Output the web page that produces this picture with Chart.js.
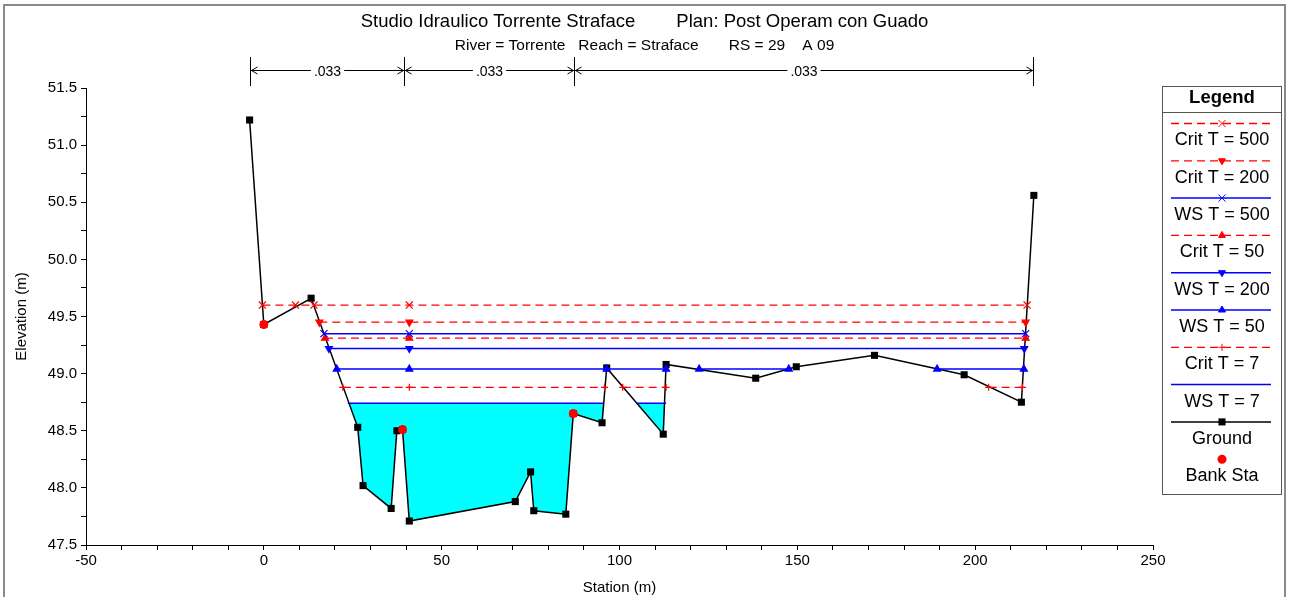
<!DOCTYPE html>
<html>
<head>
<meta charset="utf-8">
<title>Studio Idraulico Torrente Straface - RS 29</title>
<script src="https://cdn.jsdelivr.net/npm/chart.js@4.4.1/dist/chart.umd.min.js"></script>
<style>
  html, body { margin: 0; padding: 0; background: #fff; }
  #wrap { position: relative; width: 1289px; height: 597px; overflow: hidden; }
  canvas { position: absolute; left: 0; top: 0; }
  #frame { position: absolute; left: 3px; top: 4px; width: 1283px; height: 620px; border: 2px solid #8a8a8a; box-sizing: border-box; pointer-events: none; }
</style>
</head>
<body>
<div id="wrap">
  <canvas id="xs" width="1289" height="597"></canvas>
  <div id="frame"></div>
</div>
<script>
const FONT = "'Liberation Sans', Arial, Helvetica, sans-serif";

// ground profile (station m, elevation m)
let groundSta = [-4, 0, 13.3, 26.4, 27.9, 35.8, 37.4, 39.0, 40.9, 70.7, 75.0, 75.9, 84.9, 87.0, 95.1, 96.4, 112.3, 113.1, 138.3, 149.7, 171.7, 196.9, 213.0, 216.5];
let groundElev = [51.22, 49.43, 49.66, 48.53, 48.02, 47.82, 48.50, 48.51, 47.71, 47.88, 48.14, 47.80, 47.77, 48.65, 48.57, 49.05, 48.47, 49.08, 48.96, 49.06, 49.16, 48.99, 48.75, 50.56];

// bank stations
let bankSta = [0, 39.0, 87.0];
let bankElev = [49.43, 48.51, 48.65];

// water surfaces: elevation + marker stations, one list per wetted segment
let crit500Elev = 49.60;
let crit500Sta = [[-0.4, 8.9, 14.1, 40.9, 214.6]];
let crit200Elev = 49.45;
let crit200Sta = [[15.6, 40.9, 214.2]];
let ws500Elev = 49.35;
let ws500Sta = [[16.9, 40.9, 214.2]];
let crit50Elev = 49.31;
let crit50Sta = [[17.2, 40.9, 214.2]];
let ws200Elev = 49.22;
let ws200Sta = [[18.3, 40.9, 213.8]];
let ws50Elev = 49.04;
let ws50Sta = [[20.5, 40.9, 96.4, 113.1], [122.4, 147.6], [189.3, 213.7]];
let crit7Elev = 48.88;
let crit7Sta = [[22.2, 40.9, 95.8], [100.9, 113.1], [203.8, 213.3]];
let ws7Elev = 48.74;
let ws7Sta = [[23.6, 95.5], [104.8, 113.1]];

// manning n regions
let nSta = [-4, 39.4, 87.2, 216.4];
let nVal = [".033", ".033", ".033"];

let titleText = "Studio Idraulico Torrente Straface        Plan: Post Operam con Guado";
let subTitleText = "River = Torrente   Reach = Straface       RS = 29    A 09";

function profileData(elev, segs) {
  let pts = [];
  segs.forEach((seg, i) => {
    if (i > 0) {
      let prev = segs[i - 1];
      pts.push({ x: (prev[prev.length - 1] + seg[0]) / 2, y: null });
    }
    seg.forEach((s) => pts.push({ x: s, y: elev }));
  });
  return pts;
}

// ground clipped at the water level, used for the blue fill
function waterData(sta, elev, ws) {
  let pts = [];
  for (let i = 0; i < sta.length; i++) {
    if (i > 0) {
      let a = elev[i - 1] - ws;
      let b = elev[i] - ws;
      if (a * b < 0) {
        let t = a / (a - b);
        pts.push({ x: sta[i - 1] + t * (sta[i] - sta[i - 1]), y: ws });
      }
    }
    pts.push({ x: sta[i], y: Math.min(elev[i], ws) });
  }
  return pts;
}

function critSet(label, elev, segs, style, radius, rot) {
  return {
    label: label,
    data: profileData(elev, segs),
    borderColor: "#ff0000",
    backgroundColor: "#ff0000",
    borderWidth: 1.3,
    borderDash: [8, 5],
    pointStyle: style,
    pointRadius: radius,
    pointRotation: rot || 0,
    pointBorderWidth: 1.2,
    fill: false,
  };
}

function wsSet(label, elev, segs, style, radius, rot) {
  return {
    label: label,
    data: profileData(elev, segs),
    borderColor: "#0000ff",
    backgroundColor: "#0000ff",
    borderWidth: 1.5,
    pointStyle: style,
    pointRadius: radius,
    pointRotation: rot || 0,
    pointBorderWidth: 1.2,
    fill: false,
  };
}

let datasets = [
  critSet("Crit T = 500", crit500Elev, crit500Sta, "crossRot", 5),
  critSet("Crit T = 200", crit200Elev, crit200Sta, "triangle", 4, 180),
  wsSet("WS T = 500", ws500Elev, ws500Sta, "crossRot", 5),
  critSet("Crit T = 50", crit50Elev, crit50Sta, "triangle", 4),
  wsSet("WS T = 200", ws200Elev, ws200Sta, "triangle", 4, 180),
  wsSet("WS T = 50", ws50Elev, ws50Sta, "triangle", 4),
  critSet("Crit T = 7", crit7Elev, crit7Sta, "cross", 3.5),
  wsSet("WS T = 7", ws7Elev, ws7Sta, "circle", 0),
  {
    label: "Ground",
    data: groundSta.map((s, i) => ({ x: s, y: groundElev[i] })),
    borderColor: "#000000",
    backgroundColor: "#000000",
    borderWidth: 1.5,
    pointStyle: "rect",
    pointRadius: 5,
    pointBorderWidth: 0,
    fill: false,
  },
  {
    label: "Bank Sta",
    data: bankSta.map((s, i) => ({ x: s, y: bankElev[i] })),
    showLine: false,
    borderColor: "#ff0000",
    backgroundColor: "#ff0000",
    pointStyle: "circle",
    pointRadius: 4.5,
    pointBorderWidth: 0,
    order: -1,
  },
  {
    label: "water",
    legendSkip: true,
    data: waterData(groundSta, groundElev, ws7Elev),
    borderColor: "rgba(0,0,0,0)",
    backgroundColor: "#00ffff",
    borderWidth: 1,
    pointRadius: 0,
    fill: { target: { value: ws7Elev } },
    order: 10,
  },
];

// n values bar above the plot
const manningBar = {
  id: "manningBar",
  afterDraw(chart) {
    const ctx = chart.ctx;
    const xs = chart.scales.x;
    const y = 70;
    ctx.save();
    ctx.strokeStyle = "#000";
    ctx.fillStyle = "#000";
    ctx.lineWidth = 1;
    ctx.font = "14px " + FONT;
    ctx.textAlign = "center";
    ctx.textBaseline = "middle";
    let px = nSta.map((s) => Math.round(xs.getPixelForValue(s)) + 0.5);
    px.forEach((p) => {
      ctx.beginPath();
      ctx.moveTo(p, 57);
      ctx.lineTo(p, 86);
      ctx.stroke();
    });
    for (let i = 0; i < nVal.length; i++) {
      let a = px[i], b = px[i + 1];
      let mid = (a + b) / 2;
      let w = ctx.measureText(nVal[i]).width;
      ctx.beginPath();
      ctx.moveTo(a, y + 0.5);
      ctx.lineTo(mid - w / 2 - 3, y + 0.5);
      ctx.moveTo(mid + w / 2 + 3, y + 0.5);
      ctx.lineTo(b, y + 0.5);
      // arrow heads
      ctx.moveTo(a + 7, y - 3);
      ctx.lineTo(a + 1, y + 0.5);
      ctx.lineTo(a + 7, y + 4);
      ctx.moveTo(b - 7, y - 3);
      ctx.lineTo(b - 1, y + 0.5);
      ctx.lineTo(b - 7, y + 4);
      ctx.stroke();
      ctx.fillText(nVal[i], mid, y + 2);
    }
    ctx.restore();
  },
};

// boxed legend on the right
const boxLegend = {
  id: "boxLegend",
  afterDraw(chart) {
    const ctx = chart.ctx;
    const L = 1162, T = 86, R = 1281, B = 494;
    const cx = (L + R) / 2 + 0.5;
    ctx.save();
    ctx.strokeStyle = "#555";
    ctx.lineWidth = 1;
    ctx.strokeRect(L + 0.5, T + 0.5, R - L, B - T);
    ctx.beginPath();
    ctx.moveTo(L, 112.5);
    ctx.lineTo(R, 112.5);
    ctx.stroke();
    ctx.fillStyle = "#000";
    ctx.textAlign = "center";
    ctx.textBaseline = "middle";
    ctx.font = "bold 18.5px " + FONT;
    ctx.fillText("Legend", cx, 98);
    ctx.font = "18px " + FONT;
    let items = chart.data.datasets.filter((ds) => !ds.legendSkip);
    items.forEach((ds, i) => {
      let ly = 123.5 + i * 37.3;
      if (ds.showLine !== false) {
        ctx.save();
        ctx.strokeStyle = ds.borderColor;
        ctx.lineWidth = ds.borderWidth;
        ctx.setLineDash(ds.borderDash || []);
        ctx.beginPath();
        ctx.moveTo(L + 9, ly);
        ctx.lineTo(R - 10, ly);
        ctx.stroke();
        ctx.restore();
      }
      if (ds.pointRadius > 0) {
        ctx.save();
        ctx.fillStyle = ds.backgroundColor;
        ctx.strokeStyle = ds.borderColor;
        ctx.setLineDash([]);
        Chart.helpers.drawPoint(ctx, {
          pointStyle: ds.pointStyle,
          rotation: ds.pointRotation || 0,
          radius: ds.pointRadius,
          borderWidth: ds.pointBorderWidth || 0,
        }, cx, ly);
        ctx.restore();
      }
      ctx.fillText(ds.label, cx, ly + 17);
    });
    ctx.restore();
  },
};

new Chart(document.getElementById("xs"), {
  type: "line",
  data: { datasets: datasets },
  options: {
    responsive: false,
    animation: false,
    layout: { padding: 0 },
    elements: { line: { tension: 0 } },
    scales: {
      x: {
        type: "linear",
        min: -50,
        max: 250,
        afterFit: (s) => { s.height = 52; },
        ticks: {
          stepSize: 10,
          autoSkip: false,
          maxRotation: 0,
          padding: 2,
          color: "#000",
          font: { family: FONT, size: 15 },
          callback: (v) => (v % 50 === 0 ? v : ""),
        },
        grid: { drawOnChartArea: false, drawTicks: true, tickLength: 5, color: "#000" },
        border: { color: "#000", width: 1 },
        title: { display: true, text: "Station (m)", color: "#000", font: { family: FONT, size: 15 }, padding: 0 },
      },
      y: {
        type: "linear",
        min: 47.5,
        max: 51.5,
        afterFit: (s) => { s.width = 86; },
        ticks: {
          stepSize: 0.25,
          autoSkip: false,
          padding: 4,
          color: "#000",
          font: { family: FONT, size: 15 },
          callback: (v) => (Math.abs(v * 2 - Math.round(v * 2)) < 1e-6 ? v.toFixed(1) : ""),
        },
        grid: { drawOnChartArea: false, drawTicks: true, tickLength: 5, color: "#000" },
        border: { color: "#000", width: 1 },
        title: { display: true, text: "Elevation (m)", color: "#000", font: { family: FONT, size: 15 }, padding: { top: 13, bottom: 0 } },
      },
      // empty band on the right that holds the legend box
      side: {
        type: "linear",
        position: "right",
        min: 0,
        max: 1,
        afterFit: (s) => { s.width = 136; },
        ticks: { display: false },
        grid: { display: false },
        border: { display: false },
      },
    },
    plugins: {
      legend: { display: false },
      tooltip: { enabled: false },
      filler: { drawTime: "beforeDatasetsDraw" },
      title: {
        display: true,
        text: titleText,
        color: "#000",
        font: { family: FONT, size: 18.5, weight: "normal" },
        padding: { top: 11, bottom: 2 },
      },
      subtitle: {
        display: true,
        text: subTitleText,
        color: "#000",
        font: { family: FONT, size: 15.5 },
        padding: { top: 1.5, bottom: 32.7 },
      },
    },
  },
  plugins: [manningBar, boxLegend],
});
</script>
</body>
</html>
